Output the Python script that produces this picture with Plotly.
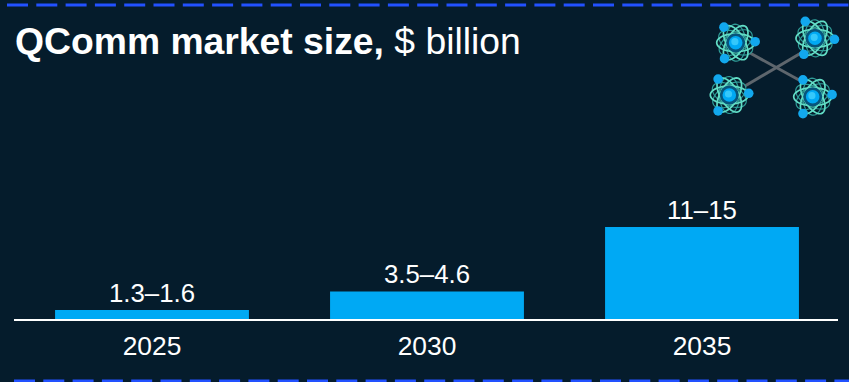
import math
import plotly.graph_objects as go

# Market size ranges in $ billion; bars are drawn to the high end of each range
years = ["2025", "2030", "2035"]
range_labels = ["1.3–1.6", "3.5–4.6", "11–15"]
high_values = [1.6, 4.6, 15]

W, H = 849, 382
BG = "#051C2C"
BAR = "#00A9F4"
DASH = "#2251FF"
ORBIT = "#62DDC6"
FONT = "Liberation Sans, Arial, sans-serif"

fig = go.Figure()
fig.add_trace(go.Bar(
    x=years, y=high_values, width=0.705, marker=dict(color=BAR, line=dict(width=0)),
    text=range_labels, textposition="outside", cliponaxis=False,
    textfont=dict(family=FONT, size=25.8, color="white"), hoverinfo="skip",
))

shapes = []


def px_shape(**kw):
    # Decorations use the full-page pixel axes on x2/y2
    shapes.append(dict(xref="x2", yref="y2", **kw))


def ellipse_path(cx, cy, a, b, deg):
    t = math.radians(deg)
    pts = []
    for i in range(49):
        u = 2 * math.pi * i / 48
        ex, ey = a * math.cos(u), b * math.sin(u)
        pts.append((cx + ex * math.cos(t) - ey * math.sin(t),
                    cy + ex * math.sin(t) + ey * math.cos(t)))
    return "M" + " L".join(f"{x:.2f},{y:.2f}" for x, y in pts) + " Z"


def circle(cx, cy, r, color):
    px_shape(type="circle", x0=cx - r, x1=cx + r, y0=cy - r, y1=cy + r,
             fillcolor=color, line=dict(width=0))


# Dashed rules along the top and bottom edges
for y, x_start in ((5, 7), (381, 14)):
    px_shape(type="line", x0=x_start, x1=W, y0=y, y1=y,
             line=dict(color=DASH, width=2.8, dash="21px,8.3px"))

# Links between the four qubits
for x0, y0, x1, y1 in ((750, 53, 799, 80), (801, 53, 745, 86)):
    px_shape(type="line", x0=x0, y0=y0, x1=x1, y1=y1, line=dict(color="#5E666D", width=3))

# Atom icons: centre and the angular position of each electron
atoms = [
    (735.7, 42.7, (233, -3, 125)),
    (815.0, 38.3, (240, 3, 125)),
    (729.3, 95.0, (235, -5, 125)),
    (812.7, 96.7, (240, -6, 120)),
]
for cx, cy, electrons in atoms:
    for deg, a, b, color, width in (
        (28, 18.5, 10, "#2F9C97", 1.2), (88, 18.5, 10, "#2F9C97", 1.2), (148, 18.5, 10, "#2F9C97", 1.2),
        (0, 19, 9, ORBIT, 1.7), (60, 19, 9, ORBIT, 1.7), (120, 19, 9, ORBIT, 1.7),
    ):
        px_shape(type="path", path=ellipse_path(cx, cy, a, b, deg), line=dict(color=color, width=width))
    circle(cx, cy, 9.5, "#07557C")
    circle(cx, cy, 6.8, "#00A9F4")
    circle(cx - 0.8, cy - 1.0, 3.6, "#35C8FB")
    for ang in electrons:
        ex = cx + 19.5 * math.cos(math.radians(ang))
        ey = cy + 19.5 * math.sin(math.radians(ang))
        circle(ex, ey, 4.8, "#12A8EE")

fig.add_annotation(
    xref="x2", yref="y2", x=13, y=41, xanchor="left", yanchor="middle", showarrow=False,
    text="<b>QComm market size,</b> $ billion",
    font=dict(family=FONT, size=37.3, color="white"),
)

# Invisible trace so the pixel axes exist for the decorations
fig.add_trace(go.Scatter(x=[0, W], y=[0, H], xaxis="x2", yaxis="y2", mode="markers",
                         marker=dict(opacity=0), hoverinfo="skip", showlegend=False))

baseline = 320
# Baseline under the bars
px_shape(type="line", x0=14, x1=838, y0=baseline, y1=baseline, line=dict(color="white", width=2))

px_per_unit = 6.2
y_top = 20
fig.update_layout(
    width=W, height=H, margin=dict(l=0, r=0, t=0, b=0), autosize=False,
    paper_bgcolor=BG, plot_bgcolor="rgba(0,0,0,0)", showlegend=False, shapes=shapes,
    xaxis=dict(domain=[14.5 / W, 839.5 / W], type="category", range=[-0.5, 2.5],
               showgrid=False, zeroline=False, showline=False,
               ticks="", tickfont=dict(family=FONT, size=26.4, color="white"), ticklabelstandoff=8),
    yaxis=dict(domain=[(H - baseline) / H, (H - baseline + y_top * px_per_unit) / H],
               range=[0, y_top], visible=False, showgrid=False, zeroline=False),
    xaxis2=dict(domain=[0, 1], range=[0, W], visible=False, anchor="y2"),
    yaxis2=dict(domain=[0, 1], range=[H, 0], visible=False, anchor="x2"),
)

fig.write_html("out.html")
